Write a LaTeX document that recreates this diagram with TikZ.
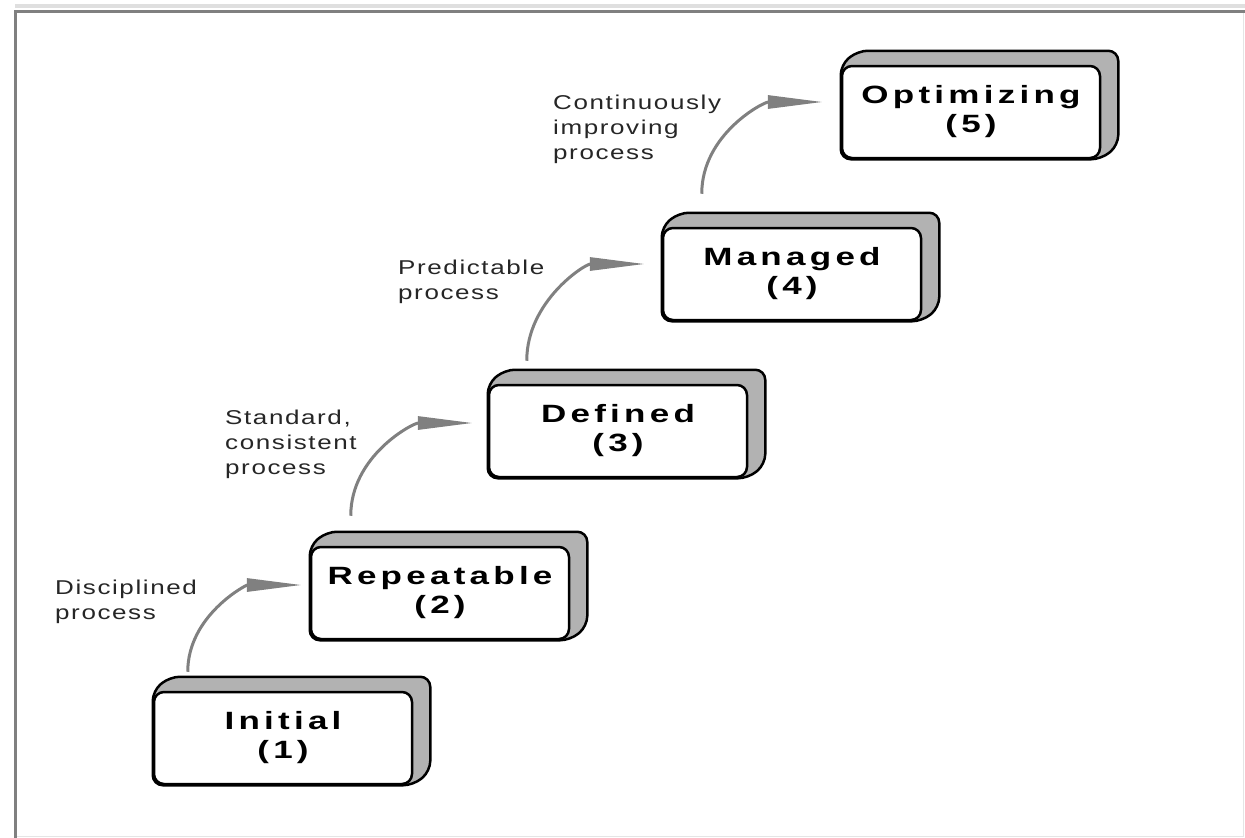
\documentclass[tikz,border=0pt]{standalone}
\usepackage{fontspec}
\usetikzlibrary{arrows.meta,backgrounds}
\newfontfamily\stagefont[FakeStretch=1.4,LetterSpace=17]{Liberation Sans}
\newfontfamily\notefont[FakeStretch=1.3,LetterSpace=8]{Liberation Sans}
\tikzset{
  stagebox/.style={draw, line width=2.5pt, rounded corners=10pt, fill=white,
    minimum width=258pt, minimum height=92pt, align=center,
    font=\stagefont\bfseries\fontsize{25}{29}\selectfont},
  bevel/.style={draw, line width=2.5pt, rounded corners=10pt, fill=gray!60},
  note/.style={anchor=north west, align=left, inner sep=0pt,
    font=\notefont\fontsize{20}{25}\selectfont, text=black!85},
  climb/.style={draw=gray, line width=3pt, -{Triangle[length=55pt,width=13pt]},
    out=90, in=180}
}
\begin{document}
\begin{tikzpicture}[x=1pt, y=-1pt]
\useasboundingbox (0,0) rectangle (1245,838);
% frame
\draw[gray!20, line width=1pt] (15,836) -- (1243,836) -- (1243,10);
\draw[gray!25, line width=4pt] (15,6) -- (1245,6);
\draw[gray, line width=3pt] (1245,11) -- (15,11) -- (15,838);

% maturity levels
\node[stagebox] (s1) at (283,738) {Initial\\(1)};
\node[stagebox] (s2) at (440,593) {Repeatable\\(2)};
\node[stagebox] (s3) at (618,431) {Defined\\(3)};
\node[stagebox] (s4) at (792,274) {Managed\\(4)};
\node[stagebox] (s5) at (971,112) {Optimizing\\(5)};

\begin{scope}[on background layer]
\foreach \s in {s1,s2,s3,s4,s5}
  \path[bevel] (\s.south west) -- (\s.north west)
    -- ([shift={(17,-14)}]\s.north west) -- ([shift={(17,-14)}]\s.north east)
    -- ([shift={(17,-14)}]\s.south east) -- (\s.south east) -- cycle;
\end{scope}

% transitions
\draw[climb] ([shift={(35,-19)}]s1.north west) to ([shift={(-8,-8)}]s2.west);
\draw[climb] ([shift={(41,-30)}]s2.north west) to ([shift={(-15,-8)}]s3.west);
\draw[climb] ([shift={(39,-23)}]s3.north west) to ([shift={(-17,-10)}]s4.west);
\draw[climb] ([shift={(40,-33)}]s4.north west) to ([shift={(-18,-10)}]s5.west);

\node[note] (n1) at (55,580) {Disciplined\\process};
\node[note] (n2) at (225,410) {Standard,\\consistent\\process};
\node[note] (n3) at (398,260) {Predictable\\process};
\node[note] (n4) at (553,95) {Continuously\\improving\\process};
\end{tikzpicture}
\end{document}
